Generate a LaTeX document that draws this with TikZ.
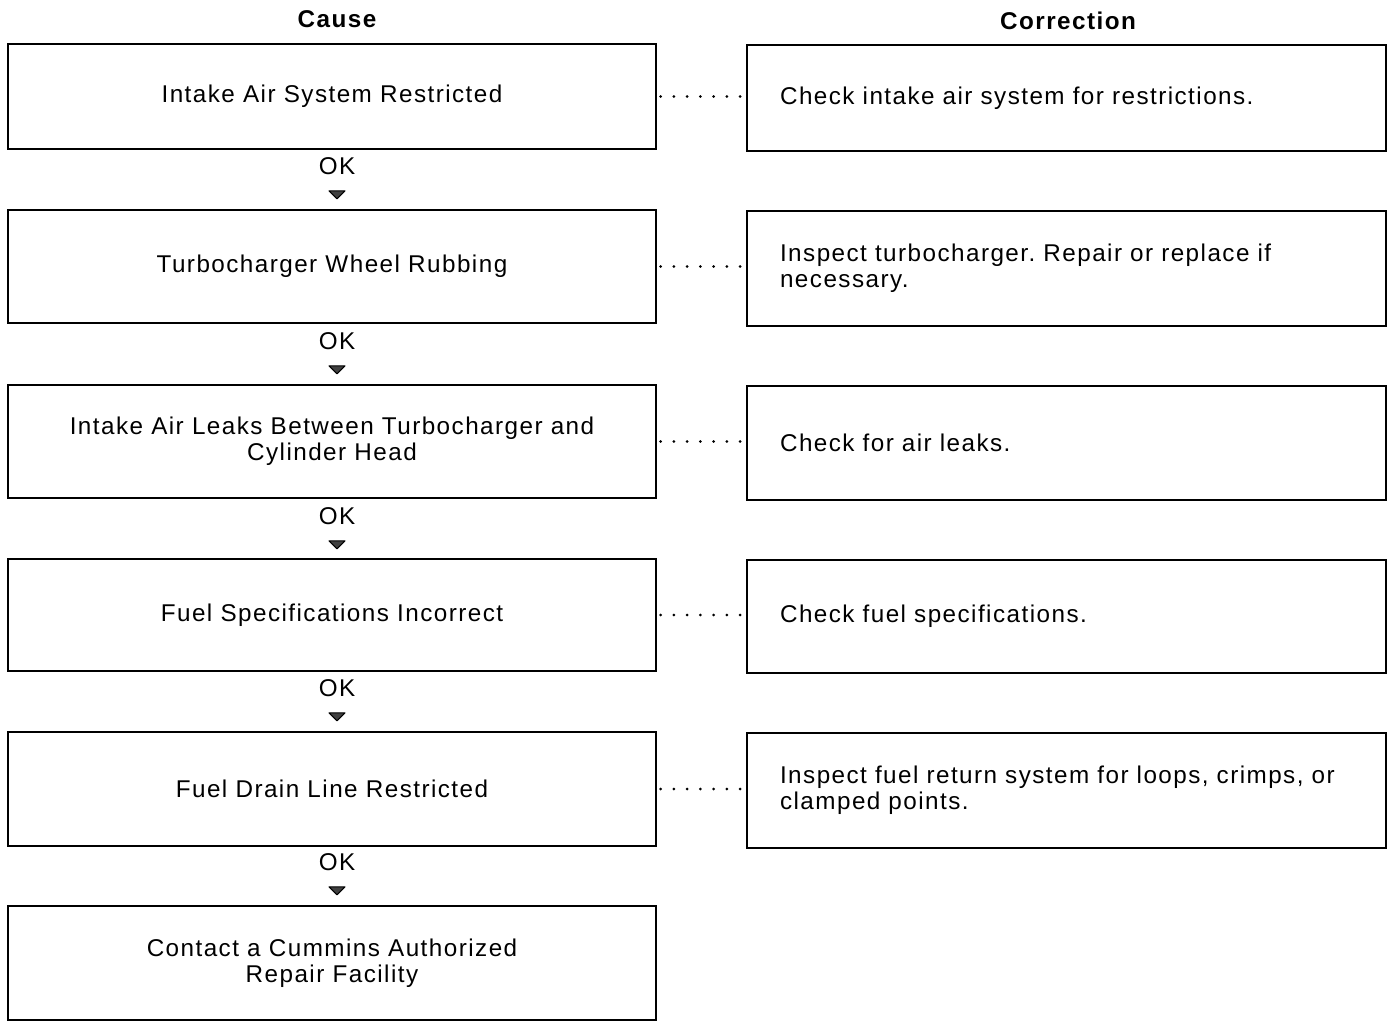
\documentclass[tikz,border=0pt]{standalone}
\usepackage{fontspec}
\setmainfont{Liberation Sans}[LetterSpace=6]
\usepackage{tikz}
\usetikzlibrary{calc, positioning}

\begin{document}
\begin{tikzpicture}[x=0.02cm, y=-0.02cm,
	every node/.style={font=\fontsize{13.8}{14.7}\selectfont},
	causebox/.style={draw, line width=0.75pt, minimum width=12.96cm, align=center, inner sep=0pt},
	fixbox/.style={draw, line width=0.75pt, minimum width=12.78cm, text width=11.46cm, inner xsep=0.66cm, inner ysep=0pt, align=left},
	dots/.style={line width=1.7pt, line cap=round, dash pattern=on 0pt off 7.55pt, shorten <=0.08cm, shorten >=0.08cm},
	okhead/.style={draw, fill=black!75, line width=0.6pt, line join=round}]
	\useasboundingbox (0,0) rectangle (1387,1021);
	% headings
	\node (h1) at (337,19) {\bfseries Cause};
	\node (h2) at (1068,21) {\bfseries Correction};
	% cause column
	\node[causebox, minimum height=2.1cm] (c1) at (332,96.5) {Intake Air System Restricted};
	\node[causebox, minimum height=2.26cm] (c2) at (332,266.5) {Turbocharger Wheel Rubbing};
	\node[causebox, minimum height=2.26cm] (c3) at (332,441.5) {Intake Air Leaks Between Turbocharger and\\Cylinder Head};
	\node[causebox, minimum height=2.24cm] (c4) at (332,615) {Fuel Specifications Incorrect};
	\node[causebox, minimum height=2.28cm] (c5) at (332,789) {Fuel Drain Line Restricted};
	\node[causebox, minimum height=2.28cm] (c6) at (332,963) {Contact a Cummins Authorized\\Repair Facility};
	% correction column
	\node[fixbox, minimum height=2.12cm] (r1) at (1066.5,98) {Check intake air system for restrictions.};
	\node[fixbox, minimum height=2.3cm] (r2) at (1066.5,268.5) {Inspect turbocharger.\ Repair or replace if\\necessary.};
	\node[fixbox, minimum height=2.28cm] (r3) at (1066.5,443) {Check for air leaks.};
	\node[fixbox, minimum height=2.26cm] (r4) at (1066.5,616.5) {Check fuel specifications.};
	\node[fixbox, minimum height=2.3cm] (r5) at (1066.5,790.5) {Inspect fuel return system for loops, crimps, or\\clamped points.};
	% OK steps
	\node (ok1) at (337,166) {OK};
	\node (ok2) at (337,341) {OK};
	\node (ok3) at (337,516) {OK};
	\node (ok4) at (337,688) {OK};
	\node (ok5) at (337,862) {OK};
	\foreach \k in {1,...,5}
		\draw[okhead] ($(ok\k.south)+(-8,10)$) -- ($(ok\k.south)+(8,10)$) -- ($(ok\k.south)+(0,18)$) -- cycle;
	% dotted links
	\draw[dots] (c1.east) -- (c1.east -| r1.west);
	\draw[dots] (c2.east) -- (c2.east -| r2.west);
	\draw[dots] (c3.east) -- (c3.east -| r3.west);
	\draw[dots] (c4.east) -- (c4.east -| r4.west);
	\draw[dots] (c5.east) -- (c5.east -| r5.west);
\end{tikzpicture}
\end{document}
